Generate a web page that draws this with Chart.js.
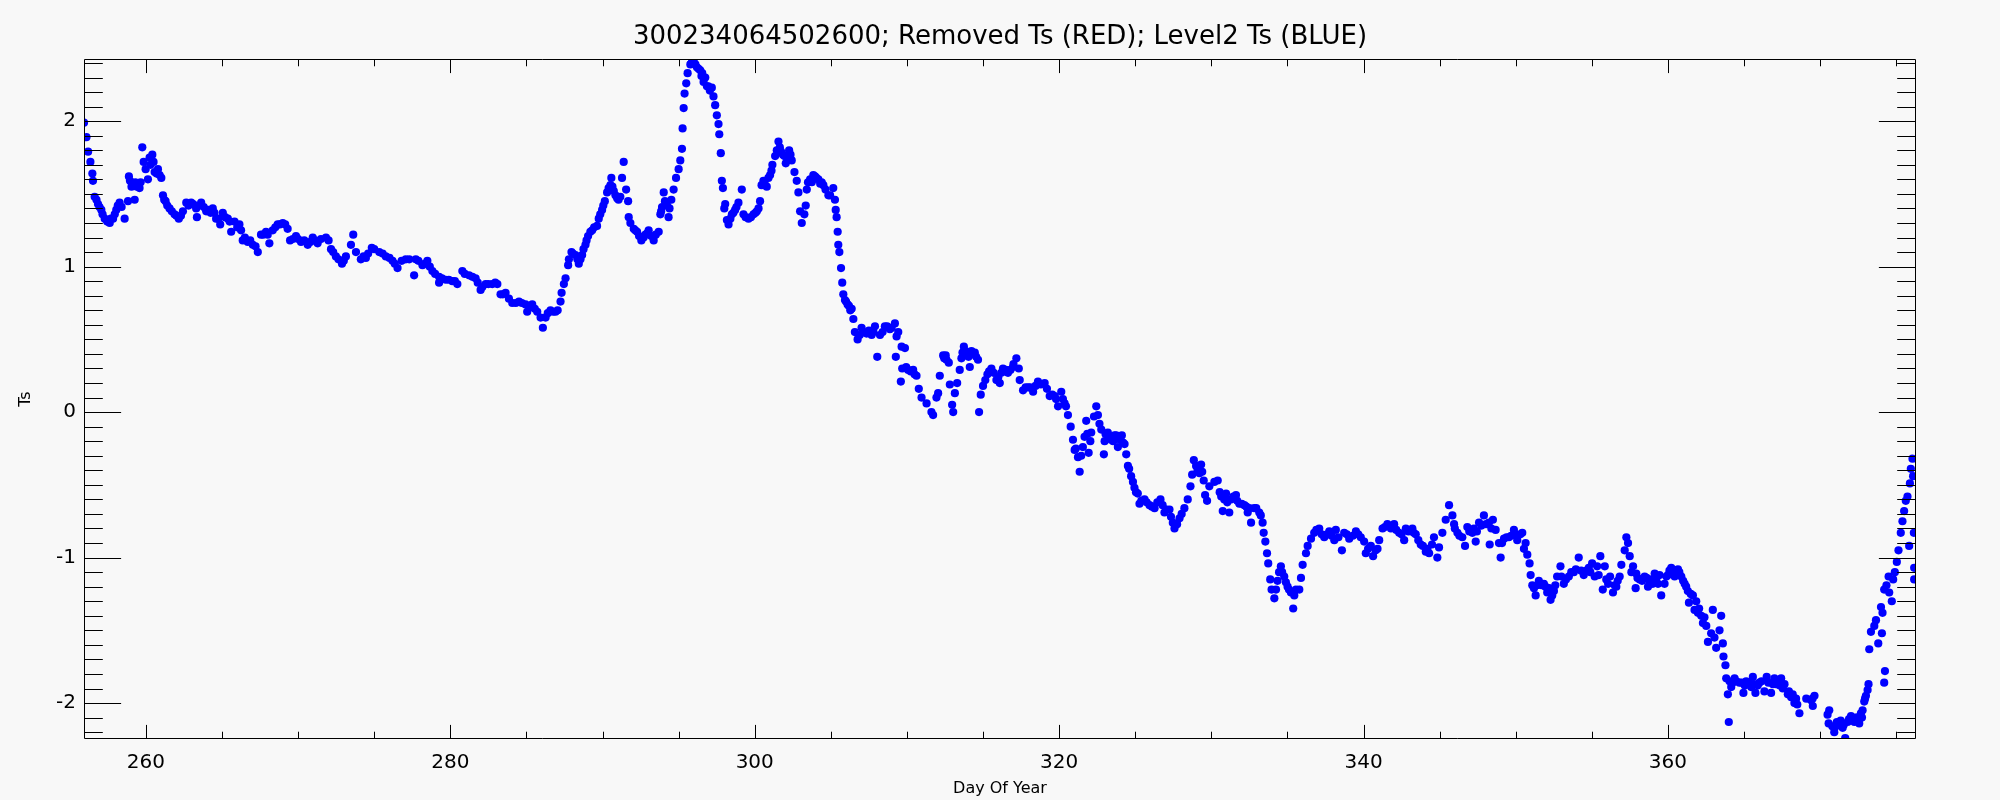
<!DOCTYPE html>
<html><head><meta charset="utf-8">
<script src="https://cdn.jsdelivr.net/npm/chart.js@4.4.1/dist/chart.umd.min.js"></script>
<style>html,body{margin:0;padding:0;background:#f8f8f8;overflow:hidden;}</style>
</head><body>
<canvas id="c" width="2000" height="800"></canvas>
<script>
const titleText = "300234064502600; Removed Ts (RED); Level2 Ts (BLUE)";
const xAxisTitle = "Day Of Year";
const yAxisTitle = "Ts";
const xTickValues = [260, 280, 300, 320, 340, 360];
const yTickValues = [-2, -1, 0, 1, 2];
const xRange = [255.93, 376.3];
const yRange = [-2.247, 2.426];

// Level2 Ts: main trace
const level2Day = [
255.93,256.09,256.20,256.35,256.48,256.52,256.63,256.85,257.07,257.29,257.62,257.84,258.05,258.27,258.60,258.82,258.88,259.15,259.26,259.48,
259.58,259.76,259.85,259.98,260.13,260.24,260.42,260.57,260.79,261.01,261.12,261.29,261.55,261.88,262.16,262.43,262.65,262.97,263.30,263.35,
263.63,263.96,264.39,264.61,264.88,265.05,265.38,265.60,265.82,266.14,266.36,266.69,267.02,267.35,267.56,267.89,268.11,268.33,268.66,268.99,
269.31,269.47,269.86,270.19,270.63,270.96,271.28,271.83,272.16,272.48,272.88,273.14,273.47,273.62,273.80,274.12,274.45,274.84,275.33,275.76,
276.20,276.53,277.07,277.62,277.73,278.17,278.49,278.82,279.26,279.26,279.70,280.13,280.46,280.79,281.23,281.66,281.99,282.32,282.76,283.09,
283.30,283.63,284.07,284.51,284.94,285.05,285.38,285.71,285.93,286.08,286.26,286.58,286.91,287.24,287.31,287.46,287.57,287.74,287.79,287.96,
288.22,288.44,288.66,288.88,289.05,289.32,289.64,289.75,289.97,290.15,290.30,290.52,290.58,290.74,290.96,291.17,291.28,291.39,291.55,291.68,
291.72,291.83,292.05,292.27,292.55,292.82,293.03,293.36,293.69,293.80,293.91,294.02,294.24,294.34,294.52,294.67,294.83,295.00,295.11,295.22,
295.26,295.33,295.39,295.50,295.59,295.77,295.99,296.31,296.42,296.64,296.75,296.86,297.18,297.29,297.40,297.51,297.62,297.67,297.77,297.84,
297.91,298.06,298.17,298.28,298.50,298.71,298.93,299.15,299.26,299.59,299.92,300.14,300.35,300.57,300.79,301.01,301.16,301.34,301.56,301.73,
301.95,302.04,302.26,302.43,302.61,302.76,302.87,302.98,303.09,303.26,303.35,303.42,303.64,303.96,304.18,304.51,304.84,305.16,305.27,305.32,
305.38,305.45,305.49,305.56,305.67,305.75,305.82,305.93,306.19,306.37,306.48,306.58,306.76,307.02,307.35,307.68,307.90,308.05,308.23,308.55,
308.88,309.21,309.27,309.32,309.43,309.60,309.65,309.69,309.87,310.08,310.41,310.63,310.78,310.96,311.29,311.61,311.72,311.94,312.05,312.16,
312.38,312.60,312.75,312.82,312.97,313.04,313.15,313.30,313.47,313.58,313.74,313.91,314.13,314.24,314.46,314.67,314.74,314.85,315.00,315.29,
315.55,315.88,316.10,316.31,316.64,316.97,317.19,317.35,317.41,317.63,317.96,318.29,318.61,319.05,319.38,319.71,319.93,320.14,320.36,320.58,
320.76,320.91,321.02,321.24,321.35,321.56,321.67,321.78,321.94,322.11,322.29,322.44,322.55,322.77,322.94,322.99,323.20,323.42,323.64,323.86,
324.12,324.30,324.41,324.52,324.73,324.95,325.17,325.28,325.61,325.94,326.27,326.66,326.92,327.25,327.47,327.58,327.91,328.23,328.45,328.63,
328.74,328.85,329.00,329.22,329.33,329.50,329.59,329.72,329.87,330.20,330.42,330.75,330.97,331.18,331.29,331.62,331.84,332.17,332.39,332.61,
332.82,333.15,333.37,333.44,333.55,333.66,333.74,333.87,333.96,334.14,334.35,334.57,334.79,335.01,335.23,335.38,335.56,335.78,335.89,336.00,
336.22,336.33,336.55,336.76,337.09,337.42,337.75,338.08,338.18,338.58,338.73,339.06,339.50,339.82,340.04,340.15,340.48,340.63,340.92,341.03,
341.25,341.57,342.01,342.34,342.67,342.78,343.21,343.43,343.76,344.09,344.31,344.63,344.85,344.96,345.18,345.40,345.62,345.84,345.95,346.17,
346.49,346.67,346.82,347.15,347.37,347.59,347.91,348.24,348.29,348.50,348.68,348.90,349.01,349.23,349.55,349.88,350.10,350.43,350.54,350.76,
350.91,350.98,351.09,351.31,351.52,351.85,352.07,352.29,352.51,352.72,352.94,353.16,353.49,353.82,354.14,354.47,354.80,355.02,355.19,355.35,
355.56,355.72,355.85,356.07,356.39,356.61,356.83,356.94,357.16,357.27,357.38,357.49,357.71,357.88,357.92,358.14,358.47,358.69,358.91,359.13,
359.35,359.56,359.78,360.00,360.22,360.44,360.66,360.88,361.10,361.31,361.38,361.64,361.75,361.86,361.97,362.19,362.30,362.52,362.63,362.84,
362.95,363.06,363.17,363.39,363.50,363.61,363.65,363.78,363.83,363.94,364.00,364.16,364.38,364.70,364.96,365.14,365.47,365.58,365.75,366.01,
366.34,366.49,366.78,367.00,367.22,367.44,367.66,367.88,368.20,368.31,368.42,368.64,369.09,369.41,369.52,369.63,370.49,370.56,370.60,370.93,
371.04,371.26,371.48,371.65,371.81,372.03,372.25,372.35,372.57,372.68,372.79,372.90,373.01,373.12,373.18,373.23,373.34,373.56,373.67,373.82,
374.00,374.06,374.10,374.21,374.21,374.26,374.36,374.50,374.54,374.71,374.80,374.91,375.04,375.15,375.30,375.41,375.52,375.63,375.74,375.85,
375.90,375.96,376.07,376.11,376.16,376.18,376.18
];
const level2Ts = [
1.99,1.89,1.79,1.72,1.64,1.59,1.48,1.43,1.39,1.33,1.30,1.33,1.39,1.44,1.33,1.45,1.62,1.56,1.46,1.57,
1.54,1.82,1.72,1.67,1.60,1.75,1.77,1.65,1.67,1.61,1.49,1.45,1.40,1.36,1.33,1.38,1.44,1.44,1.40,1.34,
1.44,1.38,1.40,1.33,1.29,1.37,1.33,1.24,1.31,1.29,1.18,1.17,1.15,1.10,1.22,1.24,1.16,1.25,1.29,1.30,
1.26,1.18,1.21,1.17,1.15,1.20,1.16,1.20,1.12,1.07,1.02,1.07,1.15,1.22,1.10,1.05,1.06,1.13,1.10,1.07,
1.04,0.99,1.05,0.94,1.05,1.01,1.04,0.97,0.93,0.89,0.91,0.90,0.88,0.97,0.94,0.92,0.84,0.88,0.88,0.88,
0.81,0.82,0.75,0.76,0.74,0.69,0.74,0.69,0.65,0.58,0.65,0.70,0.69,0.76,0.82,0.88,0.92,1.01,1.05,1.10,
1.08,1.02,1.08,1.15,1.21,1.25,1.28,1.33,1.39,1.45,1.51,1.56,1.61,1.52,1.47,1.48,1.61,1.72,1.53,1.45,
1.34,1.30,1.26,1.24,1.18,1.22,1.25,1.18,1.24,1.36,1.41,1.51,1.42,1.34,1.46,1.53,1.61,1.67,1.73,1.81,
1.95,2.09,2.19,2.26,2.33,2.39,2.41,2.36,2.35,2.27,2.30,2.24,2.23,2.17,2.11,2.04,1.98,1.91,1.78,1.59,
1.54,1.43,1.32,1.29,1.36,1.39,1.44,1.53,1.36,1.33,1.36,1.38,1.45,1.59,1.55,1.63,1.70,1.76,1.86,1.79,
1.76,1.71,1.80,1.73,1.65,1.59,1.51,1.38,1.30,1.36,1.42,1.53,1.60,1.62,1.60,1.56,1.49,1.54,1.46,1.39,
1.34,1.24,1.15,1.10,0.99,0.89,0.81,0.77,0.73,0.71,0.64,0.55,0.50,0.58,0.54,0.53,0.59,0.38,0.53,0.59,
0.57,0.61,0.38,0.52,0.55,0.21,0.45,0.30,0.44,0.29,0.29,0.25,0.16,0.10,0.06,0.00,-0.02,0.10,0.13,0.25,
0.39,0.36,0.34,0.19,0.05,0.00,0.13,0.20,0.29,0.37,0.45,0.39,0.31,0.42,0.41,0.36,0.00,0.12,0.18,0.26,
0.30,0.22,0.20,0.30,0.27,0.31,0.37,0.30,0.22,0.15,0.17,0.14,0.21,0.20,0.11,0.11,0.04,0.14,0.06,-0.02,
-0.10,-0.19,-0.26,-0.31,-0.41,-0.24,-0.17,-0.06,-0.28,-0.14,-0.03,0.04,-0.02,-0.12,-0.29,-0.20,-0.14,-0.19,-0.16,-0.24,
-0.16,-0.22,-0.29,-0.37,-0.44,-0.52,-0.56,-0.63,-0.60,-0.64,-0.66,-0.60,-0.69,-0.67,-0.76,-0.80,-0.73,-0.66,-0.60,-0.51,
-0.43,-0.33,-0.37,-0.42,-0.36,-0.47,-0.57,-0.61,-0.51,-0.48,-0.47,-0.68,-0.56,-0.69,-0.60,-0.57,-0.63,-0.64,-0.69,-0.76,
-0.66,-0.69,-0.76,-0.83,-0.89,-0.97,-1.04,-1.15,-1.22,-1.28,-1.16,-1.06,-1.13,-1.20,-1.24,-1.35,-1.22,-1.22,-1.14,-1.05,
-0.97,-0.92,-0.87,-0.83,-0.80,-0.86,-0.82,-0.88,-0.81,-0.95,-0.83,-0.87,-0.82,-0.86,-0.89,-0.97,-0.92,-0.99,-0.94,-0.88,
-0.80,-0.77,-0.77,-0.83,-0.88,-0.80,-0.80,-0.84,-0.91,-0.96,-0.97,-0.86,-1.00,-0.93,-0.83,-0.74,-0.64,-0.71,-0.77,-0.83,
-0.86,-0.92,-0.79,-0.83,-0.89,-0.76,-0.71,-0.76,-0.91,-0.74,-0.81,-0.90,-1.00,-0.87,-0.86,-0.81,-0.88,-0.83,-0.94,-0.98,
-1.04,-1.12,-1.19,-1.26,-1.16,-1.18,-1.24,-1.29,-1.23,-1.13,-1.06,-1.18,-1.13,-1.10,-1.00,-1.12,-1.07,-1.04,-1.13,-1.06,
-0.99,-1.22,-1.06,-1.18,-1.24,-1.20,-1.13,-1.05,-0.95,-0.86,-0.90,-0.99,-1.06,-1.21,-1.11,-1.15,-1.13,-1.20,-1.15,-1.11,
-1.18,-1.26,-1.18,-1.12,-1.07,-1.13,-1.08,-1.13,-1.18,-1.23,-1.31,-1.26,-1.36,-1.30,-1.38,-1.40,-1.45,-1.47,-1.58,-1.52,
-1.36,-1.55,-1.62,-1.50,-1.40,-1.59,-1.68,-1.74,-1.83,-1.94,-2.13,-1.89,-1.83,-1.86,-1.93,-1.85,-1.89,-1.82,-1.93,-1.86,
-1.92,-1.82,-1.93,-1.83,-1.86,-1.83,-1.87,-1.94,-1.94,-2.00,-1.97,-2.07,-1.97,-1.98,-2.02,-1.95,-2.08,-2.14,-2.05,-2.20,
-2.16,-2.14,-2.17,-2.24,-2.13,-2.09,-2.13,-2.10,-2.14,-2.07,-2.05,-1.99,-1.95,-1.91,-1.87,-1.63,-1.51,-1.47,-1.43,-1.59,
-1.34,-1.52,-1.38,-1.22,-1.86,-1.78,-1.19,-1.13,-1.24,-1.30,-1.15,-1.10,-1.03,-0.95,-0.83,-0.75,-0.68,-0.61,-0.58,-0.92,
-0.49,-0.39,-0.32,-0.44,-0.83,-1.07,-1.15
];

// Level2 Ts: extra samples read across the width of the dense band
const level2DayBand = [
256.75,256.95,257.15,257.45,257.70,257.95,258.15,258.40,258.95,259.05,259.30,259.40,259.65,260.30,260.50,260.70,260.90,261.20,261.40,261.70,262.00,262.30,262.80,263.10,263.45,263.80,264.10,264.25,264.50,264.75,265.20,265.50,266.00,266.25,266.50,266.85,267.20,267.70,268.00,268.50,268.80,269.15,269.65,270.00,270.40,270.80,271.10,271.50,272.00,272.30,272.65,273.00,274.30,274.60,275.00,275.55,276.00,276.35,
276.80,277.30,277.90,278.30,278.65,279.00,279.45,279.90,280.30,280.95,281.45,281.80,282.10,282.50,282.95,283.45,283.85,284.30,284.70,285.20,285.55,286.40,286.75,287.05,288.05,288.35,288.55,288.75,288.95,289.20,289.45,289.85,290.05,290.40,290.65,290.85,291.05,292.15,292.40,292.70,292.95,293.20,293.50,293.85,294.10,294.40,295.85,296.10,296.20,296.50,
296.55,296.95,297.05,298.00,298.40,298.60,298.80,299.40,299.75,300.05,300.25,300.45,300.65,300.90,301.10,301.45,301.65,301.85,302.15,302.35,303.50,303.75,303.85,304.05,304.30,304.40,304.65,304.95,306.00,306.10,306.28,306.90,307.15,307.50,307.80,308.40,308.70,309.00,309.95,310.25,310.50,312.45,312.55,313.65,313.85,314.05,314.35,314.55,315.15,315.40,315.70,316.00,316.45,316.80,
316.20,316.50,317.00,317.80,318.10,318.45,318.80,319.20,319.55,319.80,320.25,320.45,321.10,321.45,321.85,322.05,322.65,323.05,323.30,323.55,323.75,324.00,324.20,324.60,324.85,325.05,325.40,325.75,326.10,326.45,326.80,327.05,327.35,327.75,328.05,329.10,329.40,330.55,330.65,330.85,331.05,331.45,331.70,332.00,332.30,332.50,332.95,333.25,334.25,334.45,334.65,334.90,335.10,335.45,
336.90,337.25,337.60,337.90,338.35,338.90,339.30,339.65,340.30,340.80,341.40,341.80,342.15,342.50,342.95,343.30,343.60,343.90,344.20,344.50,346.00,346.30,346.95,347.25,347.45,347.75,348.05,348.40,349.10,349.40,349.70,350.00,350.30,350.65,351.20,351.40,351.70,351.95,352.20,352.40,352.60,353.00,353.30,353.65,353.95,354.30,354.65,354.90,355.45,
355.95,356.20,356.50,356.70,357.60,358.00,358.30,358.60,358.80,359.00,359.25,359.45,359.90,360.10,360.35,360.55,360.75,361.00,361.20,361.50,362.05,362.40,364.05,364.25,364.50,364.85,365.05,365.30,365.65,365.90,366.15,366.60,366.90,367.10,367.35,367.55,367.95,368.10,368.50,369.50,370.80,371.10,371.35,371.55,371.90,372.15,372.45,372.75,372.95
];
const level2TsBand = [
1.46,1.41,1.36,1.31,1.33,1.36,1.42,1.41,1.59,1.55,1.58,1.55,1.58,1.70,1.72,1.64,1.63,1.46,1.42,1.38,1.35,1.35,1.42,1.43,1.42,1.41,1.39,1.37,1.37,1.33,1.34,1.31,1.27,1.25,1.20,1.18,1.14,1.22,1.22,1.27,1.29,1.29,1.19,1.19,1.18,1.17,1.18,1.19,1.18,1.10,1.05,1.04,1.07,1.09,1.12,1.09,1.06,1.02,
1.04,1.05,1.04,1.02,1.00,0.95,0.92,0.91,0.90,0.95,0.93,0.89,0.86,0.88,0.89,0.81,0.78,0.75,0.75,0.72,0.71,0.68,0.69,0.70,1.09,1.05,1.05,1.12,1.18,1.24,1.27,1.36,1.42,1.54,1.55,1.49,1.46,1.25,1.21,1.20,1.23,1.21,1.22,1.38,1.45,1.40,2.40,2.39,2.37,2.31,
2.33,2.24,2.21,1.40,1.33,1.37,1.41,1.34,1.34,1.37,1.40,1.56,1.57,1.61,1.66,1.80,1.82,1.77,1.75,1.77,1.58,1.58,1.63,1.61,1.57,1.58,1.53,1.49,0.76,0.74,0.70,0.53,0.55,0.56,0.55,0.55,0.59,0.58,0.31,0.28,0.26,0.37,0.39,0.41,0.42,0.38,0.40,0.38,0.22,0.28,0.27,0.24,0.28,0.29,
0.27,0.29,0.33,0.17,0.17,0.18,0.19,0.16,0.12,0.09,0.09,0.04,-0.25,-0.30,-0.15,-0.20,-0.08,-0.15,-0.17,-0.20,-0.16,-0.19,-0.21,-0.39,-0.48,-0.55,-0.61,-0.62,-0.65,-0.62,-0.64,-0.67,-0.72,-0.77,-0.70,-0.40,-0.41,-0.55,-0.58,-0.60,-0.62,-0.58,-0.61,-0.63,-0.65,-0.66,-0.66,-0.71,-1.22,-1.10,-1.10,-1.17,-1.22,-1.26,
-0.81,-0.84,-0.84,-0.85,-0.86,-0.84,-0.85,-0.84,-0.94,-0.95,-0.79,-0.80,-0.81,-0.84,-0.82,-0.83,-0.88,-0.92,-0.94,-0.91,-0.80,-0.85,-0.82,-0.80,-0.82,-0.78,-0.77,-0.80,-0.90,-0.86,-0.85,-0.84,-0.84,-0.90,-1.21,-1.19,-1.19,-1.20,-1.21,-1.26,-1.19,-1.13,-1.15,-1.10,-1.08,-1.09,-1.09,-1.10,-1.12,
-1.15,-1.13,-1.19,-1.16,-1.10,-1.14,-1.16,-1.14,-1.17,-1.18,-1.14,-1.12,-1.13,-1.09,-1.10,-1.11,-1.10,-1.16,-1.20,-1.25,-1.35,-1.41,-1.85,-1.86,-1.85,-1.86,-1.88,-1.86,-1.87,-1.88,-1.85,-1.86,-1.87,-1.87,-1.88,-1.90,-1.92,-1.96,-2.01,-1.97,-2.16,-2.13,-2.12,-2.15,-2.11,-2.11,-2.10,-2.10,-1.97
];

// Removed Ts (RED): none visible in the picture
const removedDay = [];
const removedTs = [];

const FONT = "'DejaVu Sans', 'Liberation Sans', sans-serif";

function toPoints(days, vals) {
  const n = Math.min(days.length, vals.length);
  const out = [];
  for (let i = 0; i < n; i++) out.push({x: days[i], y: vals[i]});
  return out;
}

const bgPlugin = {
  id: 'bg',
  beforeDraw(chart) {
    const ctx = chart.ctx;
    ctx.save();
    ctx.fillStyle = '#f8f8f8';
    ctx.fillRect(0, 0, chart.width, chart.height);
    ctx.restore();
  }
};

const frameTicks = {
  id: 'frameTicks',
  afterDatasetsDraw(chart) {
    const {ctx, chartArea: a, scales: {x, y}} = chart;
    ctx.save();
    ctx.strokeStyle = '#000';
    ctx.lineWidth = 1;
    const L = Math.round(a.left) + 0.5, R = Math.round(a.right) - 0.5;
    const T = Math.round(a.top) + 0.5, B = Math.round(a.bottom) - 0.5;
    const h = B - T, w = R - L;
    ctx.beginPath();
    ctx.rect(L, T, R - L, B - T);
    for (let v = Math.ceil(x.min / 5) * 5; v <= x.max; v += 5) {
      const px = Math.round(x.getPixelForValue(v)) + 0.5;
      const len = (v % 20 === 0) ? 0.02 * h : 0.01 * h;
      ctx.moveTo(px, B); ctx.lineTo(px, B - len);
      ctx.moveTo(px, T); ctx.lineTo(px, T + len);
    }
    for (let i = Math.ceil(y.min * 10); i <= Math.floor(y.max * 10); i++) {
      const py = Math.round(y.getPixelForValue(i / 10)) + 0.5;
      const len = (i % 10 === 0) ? 0.02 * w : 0.01 * w;
      ctx.moveTo(L, py); ctx.lineTo(L + len, py);
      ctx.moveTo(R, py); ctx.lineTo(R - len, py);
    }
    ctx.stroke();
    ctx.restore();
  }
};

new Chart(document.getElementById('c'), {
  type: 'scatter',
  data: {
    datasets: [
      {
        label: 'Level2 Ts',
        data: toPoints(level2Day, level2Ts).concat(toPoints(level2DayBand, level2TsBand)),
        backgroundColor: '#0000ff',
        borderWidth: 0,
        pointRadius: 4.1,
        clip: 0
      },
      {
        label: 'Removed Ts',
        data: toPoints(removedDay, removedTs),
        backgroundColor: '#ff0000',
        borderWidth: 0,
        pointRadius: 4.1,
        clip: 0
      }
    ]
  },
  options: {
    responsive: false,
    devicePixelRatio: 1,
    animation: false,
    layout: {padding: 0},
    plugins: {
      legend: {display: false},
      tooltip: {enabled: false},
      title: {
        display: true,
        text: titleText,
        color: '#000',
        font: {family: FONT, size: 26, weight: 'normal', lineHeight: 1.2},
        padding: {top: 22, bottom: 6}
      }
    },
    scales: {
      x: {
        type: 'linear',
        position: 'bottom',
        min: xRange[0],
        max: xRange[1],
        afterBuildTicks: s => { s.ticks = xTickValues.map(v => ({value: v})); },
        afterFit: s => { s.height = 61; },
        grid: {display: false, drawTicks: false},
        border: {display: false},
        ticks: {
          color: '#000',
          font: {family: FONT, size: 20},
          padding: 12,
          maxRotation: 0,
          autoSkip: false,
          callback: v => String(v)
        },
        title: {
          display: true,
          text: xAxisTitle,
          color: '#000',
          font: {family: FONT, size: 16},
          padding: {top: 0, bottom: 2}
        }
      },
      y: {
        type: 'linear',
        position: 'left',
        min: yRange[0],
        max: yRange[1],
        afterBuildTicks: s => { s.ticks = yTickValues.map(v => ({value: v})); },
        afterFit: s => { s.width = 84; },
        grid: {display: false, drawTicks: false},
        border: {display: false},
        ticks: {
          color: '#000',
          font: {family: FONT, size: 20},
          padding: 8,
          autoSkip: false,
          callback: v => String(v)
        },
        title: {
          display: true,
          text: yAxisTitle,
          color: '#000',
          font: {family: FONT, size: 16},
          padding: {top: 16, bottom: 0}
        }
      },
      yRight: {
        type: 'linear',
        axis: 'y',
        position: 'right',
        min: yRange[0],
        max: yRange[1],
        afterFit: s => { s.width = 84; },
        grid: {display: false, drawTicks: false},
        border: {display: false},
        ticks: {display: false}
      }
    }
  },
  plugins: [bgPlugin, frameTicks]
});
</script>
</body></html>
